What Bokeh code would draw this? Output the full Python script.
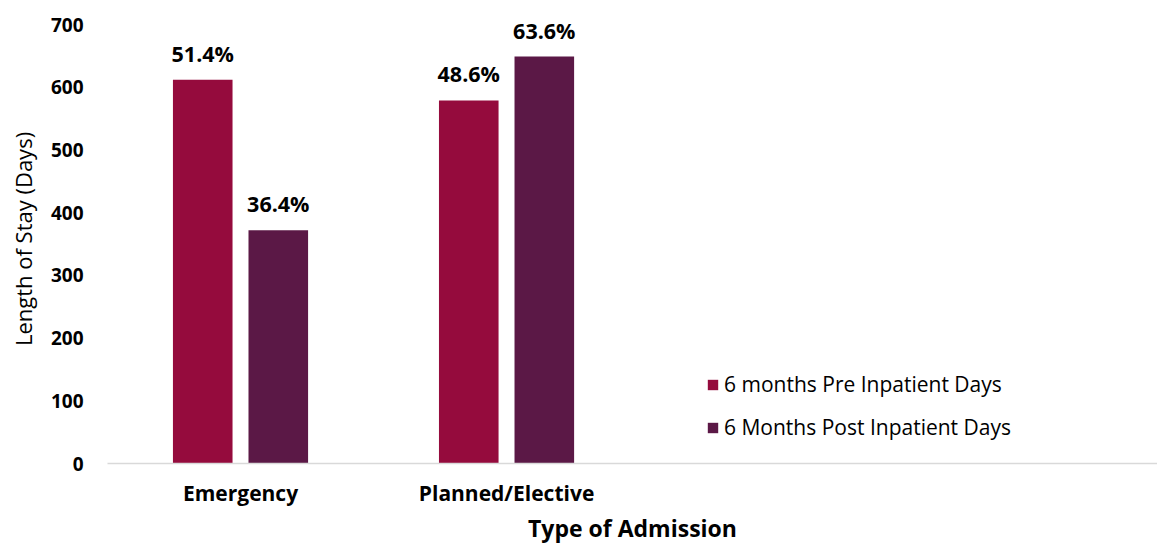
from bokeh.plotting import figure
from bokeh.models import ColumnDataSource, Range1d, FixedTicker, LabelSet, Legend, LegendItem
from bokeh.core.properties import value
from bokeh.transform import dodge
from bokeh.embed import file_html
from bokeh.resources import INLINE

categories = ["Emergency", "Planned/Elective"]
pre_days = [612, 579]
post_days = [372, 649]
pre_pct = ["51.4%", "48.6%"]
post_pct = ["36.4%", "63.6%"]
y_ticks = [0, 100, 200, 300, 400, 500, 600, 700]
x_title = "Type of Admission"
y_title = "Length of Stay (Days)"

FONT = "Open Sans"
PRE_COLOR = "#950B3D"
POST_COLOR = "#5B1846"

xpos = [i + 0.5 for i in range(len(categories))]
src = ColumnDataSource(dict(x=xpos, cat=categories, pre=pre_days, post=post_days,
                            pre_lbl=pre_pct, post_lbl=post_pct))

p = figure(width=1157, height=546, output_backend="svg", toolbar_location=None,
           x_range=Range1d(0, 3.947), y_range=Range1d(0, 716),
           min_border_left=107, min_border_right=0, min_border_top=14, min_border_bottom=82)

r1 = p.vbar(x=dodge("x", -0.142, range=p.x_range), top="pre", width=0.224, source=src,
            fill_color=PRE_COLOR, line_color=None)
r2 = p.vbar(x=dodge("x", 0.142, range=p.x_range), top="post", width=0.224, source=src,
            fill_color=POST_COLOR, line_color=None)

for col, lbl, off in [("pre", "pre_lbl", -0.142), ("post", "post_lbl", 0.142)]:
    ls = LabelSet(x=dodge("x", off, range=p.x_range), y=col, text=lbl, source=src,
                  text_align="center", text_baseline="bottom", y_offset=12,
                  text_font=value(FONT), text_font_style="bold", text_font_size="21.5px",
                  text_color="#000000")
    p.add_layout(ls)

p.xaxis.ticker = FixedTicker(ticks=xpos)
p.xaxis.major_label_overrides = {x: c for x, c in zip(xpos, categories)}
p.xaxis.major_tick_line_color = None
p.xaxis.minor_tick_line_color = None
p.xaxis.major_tick_out = 0
p.xaxis.major_tick_in = 0
p.xaxis.major_label_standoff = 15
p.xaxis.axis_line_color = "#D9D9D9"
p.xaxis.axis_line_width = 1.5
p.xaxis.major_label_text_font = FONT
p.xaxis.major_label_text_font_style = "bold"
p.xaxis.major_label_text_font_size = "21px"
p.xaxis.major_label_text_color = "#000000"
p.xaxis.axis_label = x_title
p.xaxis.axis_label_text_font = FONT
p.xaxis.axis_label_text_font_style = "bold"
p.xaxis.axis_label_text_font_size = "23px"
p.xaxis.axis_label_text_color = "#000000"
p.xaxis.axis_label_standoff = 2

p.yaxis.ticker = FixedTicker(ticks=y_ticks)
p.yaxis.axis_line_color = None
p.yaxis.major_tick_line_color = None
p.yaxis.minor_tick_line_color = None
p.yaxis.major_tick_out = 0
p.yaxis.major_tick_in = 0
p.yaxis.major_label_standoff = 24
p.yaxis.major_label_text_font = FONT
p.yaxis.major_label_text_font_style = "bold"
p.yaxis.major_label_text_font_size = "19px"
p.yaxis.major_label_text_color = "#000000"
p.yaxis.axis_label = y_title
p.yaxis.axis_label_text_font = FONT
p.yaxis.axis_label_text_font_style = "normal"
p.yaxis.axis_label_text_font_size = "22px"
p.yaxis.axis_label_text_color = "#000000"
p.yaxis.axis_label_standoff = 10

p.xgrid.grid_line_color = None
p.ygrid.grid_line_color = None
p.outline_line_color = None

legend = Legend(items=[LegendItem(label="6 months Pre Inpatient Days", renderers=[r1]),
                       LegendItem(label="6 Months Post Inpatient Days", renderers=[r2])],
                location=(599, 22), orientation="vertical",
                glyph_width=13, glyph_height=13, label_height=28, spacing=15,
                padding=0, margin=0, label_standoff=5,
                label_text_font=FONT, label_text_font_size="21px", label_text_color="#000000",
                border_line_color=None, background_fill_alpha=0)
p.add_layout(legend)

open("out.html", "w").write(file_html(p, INLINE))
